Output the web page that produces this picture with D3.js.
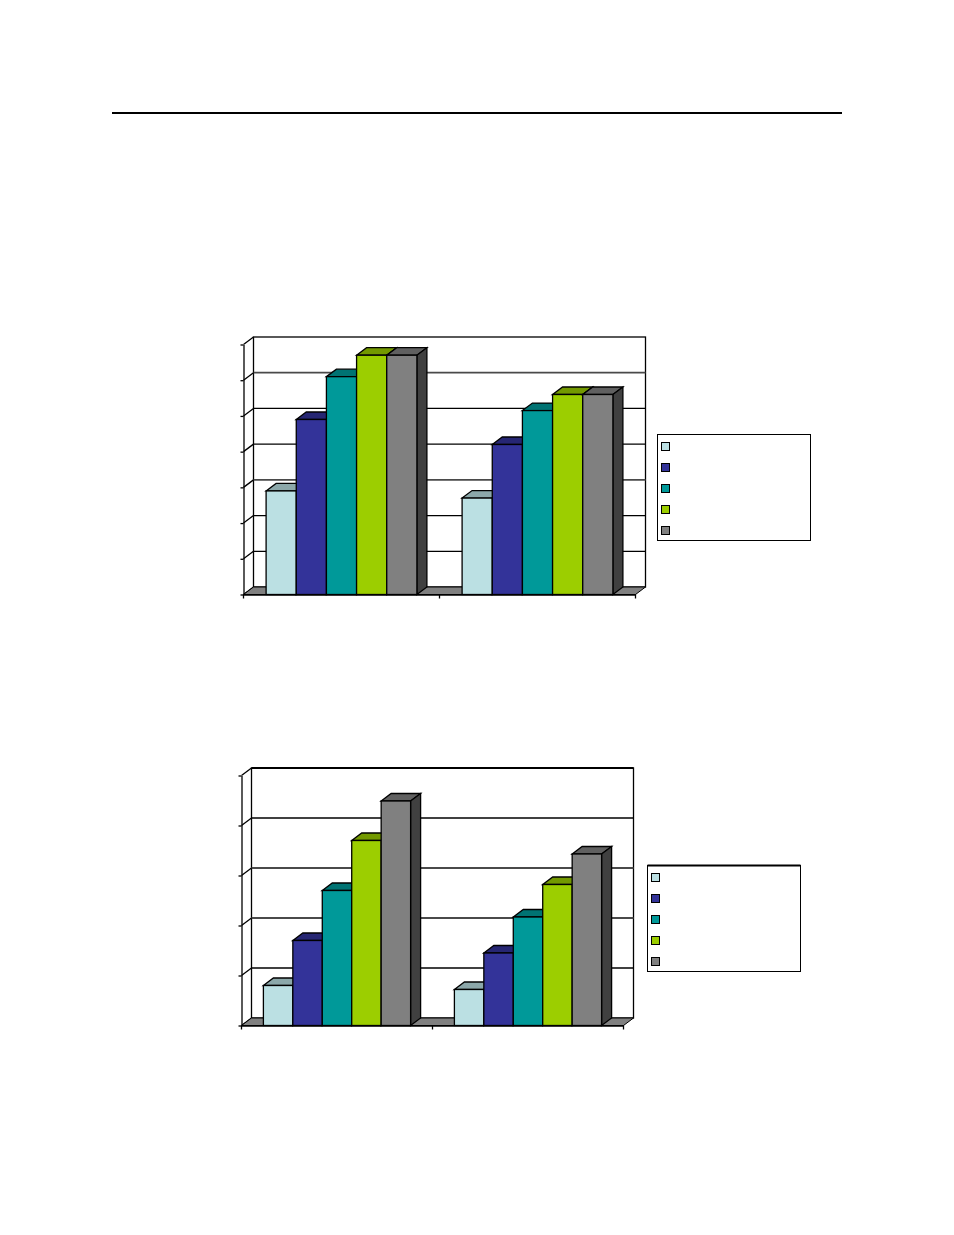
<!DOCTYPE html>
<html>
<head>
<meta charset="UTF-8">
<title>3D bar charts</title>
<script src="https://d3js.org/d3.v7.min.js"></script>
<style>
  html, body { margin: 0; padding: 0; background: #fff; }
  svg { display: block; }
</style>
</head>
<body>
<div id="svg-area"></div>
<script>
// no text in the source picture, these names only key the scales
var categories = ["first", "second"];
var seriesNames = ["s1", "s2", "s3", "s4", "s5"];

// values
var topChartValues = [
  [2.9, 2.7],
  [4.9, 4.2],
  [6.1, 5.15],
  [6.7, 5.6],
  [6.7, 5.6]
];
var bottomChartValues = [
  [0.8, 0.72],
  [1.7, 1.45],
  [2.7, 2.17],
  [3.7, 2.82],
  [4.49, 3.43]
];
var topChartMax = 7;
var bottomChartMax = 5;

var frontColors = ["#BBE0E3", "#333399", "#009999", "#9CCE00", "#808080"];
var topColors = ["#8CA8AA", "#262673", "#007373", "#739900", "#606060"];
var sideColors = ["#5E7072", "#1A1A4D", "#004D4D", "#4D6600", "#404040"];

var svg = d3.select("#svg-area")
  .append("svg")
  .attr("width", 954)
  .attr("height", 1235);

// rule across the top of the page
svg.append("line")
  .attr("x1", 112).attr("x2", 842)
  .attr("y1", 113).attr("y2", 113)
  .attr("stroke", "#000")
  .attr("stroke-width", 2);

function drawChart(opt) {
  var g = svg.append("g");
  var dx = opt.depthX, dy = opt.depthY;
  var lineW = 1.3;

  var x0 = d3.scaleBand().domain(categories).range([opt.left, opt.right]);
  var x1 = d3.scaleBand().domain(seriesNames)
    .range([opt.groupPad, x0.bandwidth() - opt.groupPad]);
  var y = d3.scaleLinear().domain([0, opt.max]).range([opt.base, opt.top]);
  var yTicks = d3.range(0, opt.max + 1);

  // back wall and its gridlines
  g.append("rect")
    .attr("x", opt.left + dx)
    .attr("y", y(opt.max) - dy)
    .attr("width", opt.right - opt.left)
    .attr("height", opt.base - y(opt.max))
    .attr("fill", "#fff")
    .attr("stroke", "#000")
    .attr("stroke-width", lineW);

  g.selectAll(".grid")
    .data(yTicks.slice(1, -1))
    .enter()
    .append("line")
    .attr("class", "grid")
    .attr("x1", opt.left + dx)
    .attr("x2", opt.right + dx)
    .attr("y1", function(d) { return y(d) - dy; })
    .attr("y2", function(d) { return y(d) - dy; })
    .attr("stroke", function(d) { return opt.heavyGrid.indexOf(d) >= 0 ? "#4a4a4a" : "#000"; })
    .attr("stroke-width", function(d) { return opt.heavyGrid.indexOf(d) >= 0 ? 1.8 : 1.3; });

  // the scan leaves some top edges heavier
  if (opt.heavyTop) {
    g.append("line")
      .attr("x1", opt.left + dx).attr("x2", opt.right + dx)
      .attr("y1", y(opt.max) - dy).attr("y2", y(opt.max) - dy)
      .attr("stroke", "#000")
      .attr("stroke-width", 2.2);
  }

  // side wall diagonals
  g.selectAll(".diag")
    .data(yTicks)
    .enter()
    .append("line")
    .attr("class", "diag")
    .attr("x1", opt.left)
    .attr("x2", opt.left + dx)
    .attr("y1", function(d) { return y(d); })
    .attr("y2", function(d) { return y(d) - dy; })
    .attr("stroke", "#000")
    .attr("stroke-width", lineW);

  // floor
  var floor = [
    [opt.left, opt.base],
    [opt.left + dx, opt.base - dy],
    [opt.right + dx, opt.base - dy],
    [opt.right, opt.base]
  ];
  g.append("path")
    .attr("d", d3.line()(floor) + "Z")
    .attr("fill", "#808080")
    .attr("stroke", "#000")
    .attr("stroke-width", 1);

  // bars, left to right so the nearer ones cover the sides
  categories.forEach(function(cat, c) {
    seriesNames.forEach(function(name, s) {
      var v = opt.values[s][c];
      var bx = x0(cat) + x1(name);
      var bw = x1.bandwidth();
      var by = y(v);
      var bar = g.append("g").attr("class", "bar");

      var top = [[bx, by], [bx + dx, by - dy], [bx + bw + dx, by - dy], [bx + bw, by]];
      bar.append("path")
        .attr("d", d3.line()(top) + "Z")
        .attr("fill", topColors[s])
        .attr("stroke", "#000")
        .attr("stroke-width", lineW);

      var side = [[bx + bw, by], [bx + bw + dx, by - dy], [bx + bw + dx, opt.base - dy], [bx + bw, opt.base]];
      bar.append("path")
        .attr("d", d3.line()(side) + "Z")
        .attr("fill", sideColors[s])
        .attr("stroke", "#000")
        .attr("stroke-width", lineW);

      bar.append("rect")
        .attr("x", bx)
        .attr("y", by)
        .attr("width", bw)
        .attr("height", opt.base - by)
        .attr("fill", frontColors[s])
        .attr("stroke", "#000")
        .attr("stroke-width", lineW);
    });
  });

  // axes, ticks only, the source has no labels
  var yAxis = d3.axisLeft(y).tickValues(yTicks).tickSize(3).tickSizeOuter(0).tickFormat("");
  var yG = g.append("g")
    .attr("transform", "translate(" + opt.left + ",0)")
    .call(yAxis);
  yG.selectAll("line, path").attr("stroke-width", lineW);

  var xAxis = d3.axisBottom(x0).tickValues([]).tickSizeOuter(0);
  var xG = g.append("g")
    .attr("transform", "translate(0," + opt.base + ")")
    .call(xAxis);
  xG.selectAll("path").attr("stroke-width", lineW);

  // axisBottom of a band scale ticks the centres, the chart ticks the borders
  var borders = categories.map(function(c) { return x0(c); }).concat([opt.right]);
  g.selectAll(".xtick")
    .data(borders)
    .enter()
    .append("line")
    .attr("class", "xtick")
    .attr("x1", function(d) { return d; })
    .attr("x2", function(d) { return d; })
    .attr("y1", opt.base)
    .attr("y2", opt.base + 4)
    .attr("stroke", "#000")
    .attr("stroke-width", lineW);

  // legend, swatches only
  var legend = g.append("g");
  legend.append("rect")
    .attr("x", opt.legendX)
    .attr("y", opt.legendY)
    .attr("width", 153)
    .attr("height", 106)
    .attr("fill", "#fff")
    .attr("stroke", "#000")
    .attr("stroke-width", 1);

  if (opt.heavyTop) {
    legend.append("line")
      .attr("x1", opt.legendX).attr("x2", opt.legendX + 153)
      .attr("y1", opt.legendY).attr("y2", opt.legendY)
      .attr("stroke", "#000")
      .attr("stroke-width", 2);
  }

  var legendY = d3.scalePoint().domain(seriesNames)
    .range([opt.legendY + 12, opt.legendY + 96]);
  legend.selectAll(".swatch")
    .data(seriesNames)
    .enter()
    .append("rect")
    .attr("class", "swatch")
    .attr("x", opt.legendX + 4)
    .attr("y", function(d) { return legendY(d) - 4; })
    .attr("width", 8)
    .attr("height", 8)
    .attr("fill", function(d, i) { return frontColors[i]; })
    .attr("stroke", "#000")
    .attr("stroke-width", 1);
}

drawChart({
  values: topChartValues, max: topChartMax,
  left: 243.5, right: 635.5, base: 594.5, top: 344.5,
  depthX: 10, depthY: 7.5, groupPad: 22.6,
  heavyGrid: [3, 6], heavyTop: false,
  legendX: 657.5, legendY: 434.5
});

drawChart({
  values: bottomChartValues, max: bottomChartMax,
  left: 241.5, right: 623.5, base: 1025.5, top: 775.5,
  depthX: 10, depthY: 7.5, groupPad: 21.9,
  heavyGrid: [2, 3], heavyTop: true,
  legendX: 647.5, legendY: 865.5
});
</script>
</body>
</html>
